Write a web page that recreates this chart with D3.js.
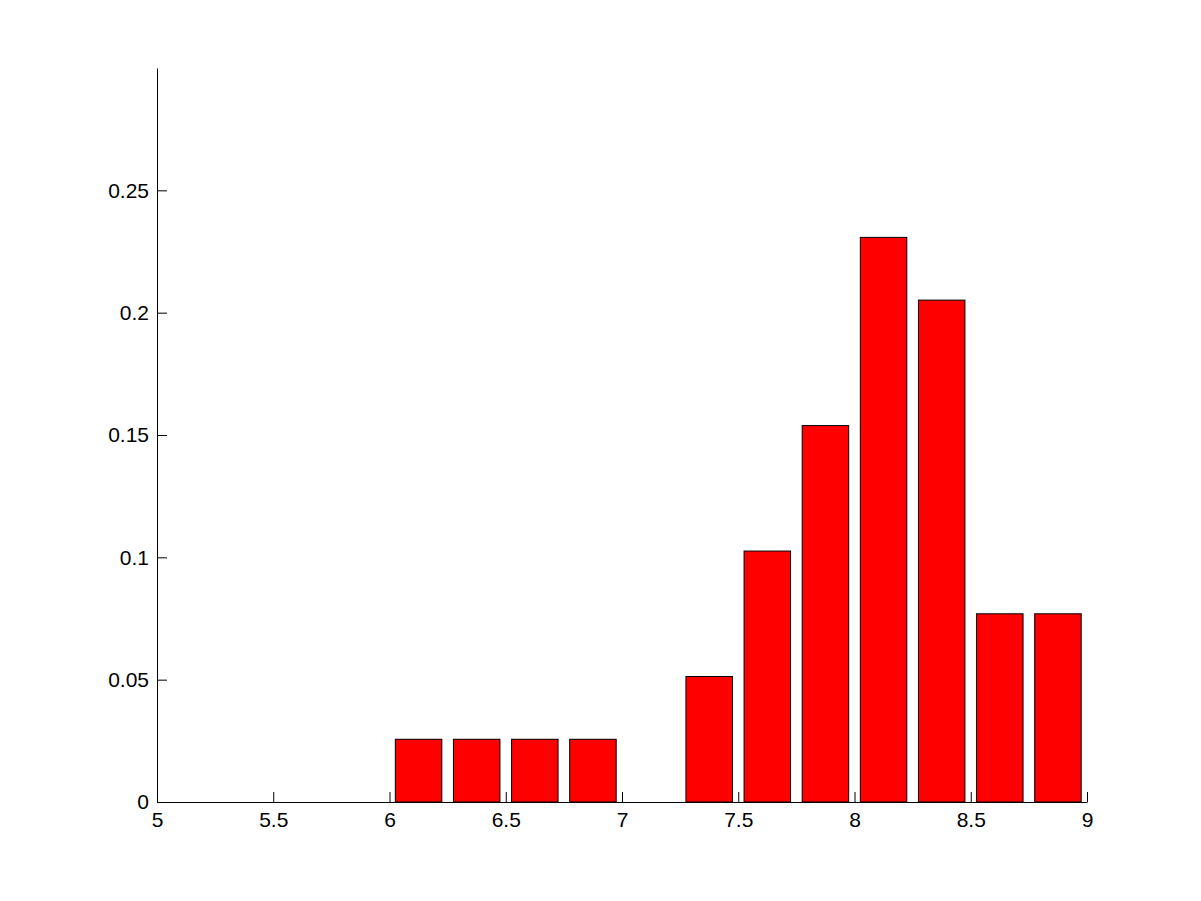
<!DOCTYPE html>
<html><head><meta charset="utf-8">
<script src="https://cdn.jsdelivr.net/npm/d3@7"></script>
<style>body{margin:0;background:#fff}svg{display:block}text{font-family:"Liberation Sans",Arial,sans-serif}</style>
</head><body>
<svg id="c" width="1201" height="901"></svg>
<script>
const binCenters = [6.125, 6.375, 6.625, 6.875, 7.125, 7.375, 7.625, 7.875, 8.125, 8.375, 8.625, 8.875];
const binValues = [1/39, 1/39, 1/39, 1/39, 0, 2/39, 4/39, 6/39, 9/39, 8/39, 3/39, 3/39];
const xTicks = [5, 5.5, 6, 6.5, 7, 7.5, 8, 8.5, 9];
const yTicks = [0, 0.05, 0.1, 0.15, 0.2, 0.25];
const binWidth = 0.25;

const svg = d3.select("#c");
const x = d3.scaleLinear().domain([5, 9]).range([157, 1087]);
const y = d3.scaleLinear().domain([0, 0.3]).range([802, 68]);

svg.append("g").selectAll("rect").data(binCenters.map((c,i)=>({c, v: binValues[i]})).filter(d=>d.v>0))
  .enter().append("rect")
  .attr("x", d => x(d.c - binWidth*0.4))
  .attr("width", d => x(d.c + binWidth*0.4) - x(d.c - binWidth*0.4))
  .attr("y", d => y(d.v))
  .attr("height", d => y(0) - y(d.v))
  .attr("fill", "#ff0000").attr("stroke", "#000").attr("stroke-width", 1);

const xa = svg.append("g").attr("transform", `translate(0,${y(0)})`)
  .call(d3.axisBottom(x).tickValues(xTicks).tickSizeInner(-10).tickSizeOuter(0).tickPadding(6).tickFormat(d3.format("")));
const ya = svg.append("g").attr("transform", `translate(${x(5)},0)`)
  .call(d3.axisLeft(y).tickValues(yTicks).tickSizeInner(-10).tickSizeOuter(0).tickPadding(8).tickFormat(d => d === 0 ? "0" : String(+d.toFixed(2))));
[xa, ya].forEach(a => {
  a.attr("font-size", null);
  a.selectAll("path,line").attr("stroke", "#000").attr("stroke-width", 1);
  a.selectAll("text").style("font-size", "21px").attr("fill", "#000").style("font-family", '"Liberation Sans",Arial,sans-serif');
});
xa.selectAll("text").attr("y", 8).attr("dy", "0.8em");
ya.selectAll("text").attr("x", -8);
</script>
</body></html>
